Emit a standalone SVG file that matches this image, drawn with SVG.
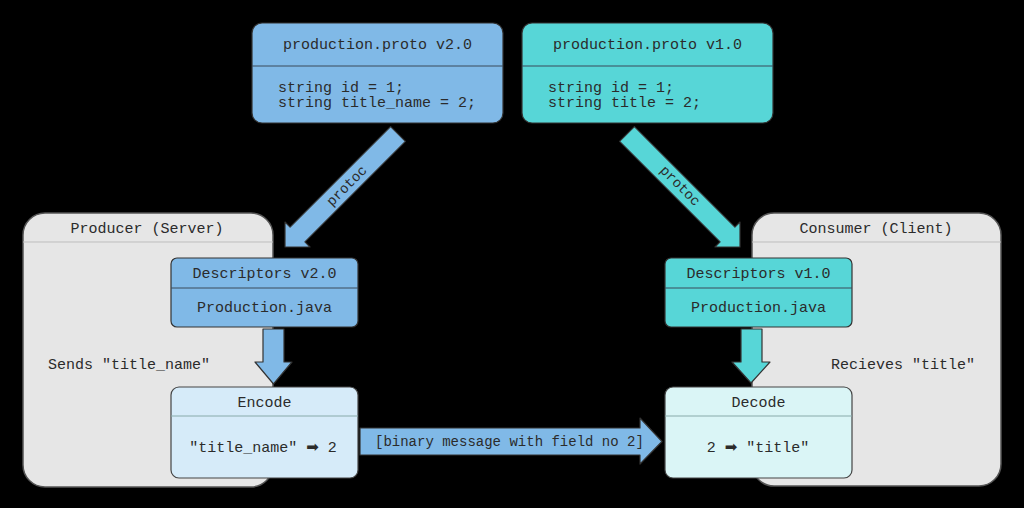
<svg xmlns="http://www.w3.org/2000/svg" width="1024" height="508" viewBox="0 0 1024 508">
<style>
text{font-family:"Liberation Mono","DejaVu Sans Mono",monospace;font-size:15px;fill:#2b2b2b}
.c{text-anchor:middle}
.sym{font-family:"DejaVu Sans",sans-serif}
.cont{fill:#e6e6e6;stroke:#555;stroke-width:1.5}
.cdiv{stroke:#bdbdbd;stroke-width:1}
.blue{fill:#80b9e7;stroke:#333;stroke-width:1.2}
.cyan{fill:#57d6d7;stroke:#333;stroke-width:1.2}
.lblue{fill:#d6ebf9;stroke:#444;stroke-width:1.2}
.lcyan{fill:#daf5f6;stroke:#444;stroke-width:1.2}
.div{stroke:#3a4a5a;stroke-width:1}
.ldiv{stroke:#8aa;stroke-width:1}
.arr{stroke:#333;stroke-width:1.2;stroke-linejoin:round}
</style>
<rect width="1024" height="508" fill="#000"/>
<g id="producer">
<rect class="cont" x="23" y="213" width="250" height="274" rx="22"/>
<line class="cdiv" x1="23" y1="242" x2="273" y2="242"/>
<text class="c" x="147" y="233">Producer (Server)</text>
<text x="48" y="369">Sends "title_name"</text>
</g>
<g id="consumer">
<rect class="cont" x="752" y="213" width="249" height="273" rx="22"/>
<line class="cdiv" x1="752" y1="242" x2="1001" y2="242"/>
<text class="c" x="876" y="233">Consumer (Client)</text>
<text x="831" y="369">Recieves "title"</text>
</g>
<g id="proto-v2">
<rect class="blue" x="252" y="23" width="251" height="100" rx="10"/>
<line class="div" x1="252" y1="66" x2="503" y2="66"/>
<text class="c" x="377.5" y="49">production.proto v2.0</text>
<text x="278" y="92">string id = 1;</text>
<text x="278" y="107">string title_name = 2;</text>
</g>
<g id="proto-v1">
<rect class="cyan" x="522" y="23" width="251" height="100" rx="10"/>
<line class="div" x1="522" y1="66" x2="773" y2="66"/>
<text class="c" x="647.5" y="49">production.proto v1.0</text>
<text x="548" y="92">string id = 1;</text>
<text x="548" y="107">string title = 2;</text>
</g>
<g id="descriptors-v2">
<rect class="blue" x="171" y="258" width="187" height="69" rx="6"/>
<line class="div" x1="171" y1="288" x2="358" y2="288"/>
<text class="c" x="264.5" y="278">Descriptors v2.0</text>
<text class="c" x="264.5" y="312">Production.java</text>
</g>
<g id="descriptors-v1">
<rect class="cyan" x="665" y="258" width="187" height="69" rx="6"/>
<line class="div" x1="665" y1="288" x2="852" y2="288"/>
<text class="c" x="758.5" y="278">Descriptors v1.0</text>
<text class="c" x="758.5" y="312">Production.java</text>
</g>
<g id="encode">
<rect class="lblue" x="171" y="387" width="187" height="91" rx="8"/>
<line class="ldiv" x1="171" y1="416" x2="358" y2="416"/>
<text class="c" x="264.5" y="407">Encode</text>
<text class="c" x="263" y="452">"title_name" <tspan class="sym">➡</tspan> 2</text>
</g>
<g id="decode">
<rect class="lcyan" x="665" y="387" width="187" height="91" rx="8"/>
<line class="ldiv" x1="665" y1="416" x2="852" y2="416"/>
<text class="c" x="758.5" y="407">Decode</text>
<text class="c" x="758" y="452">2 <tspan class="sym">➡</tspan> "title"</text>
</g>
<g id="connectors">
<polygon class="arr" fill="#80b9e7" points="285,247 285,222 290.1,227.1 390.6,126.6 405.4,141.4 304.9,241.9 310,247"/>
<text transform="translate(347,186) rotate(-45)" class="c" style="font-size:14px" y="4">protoc</text>
<polygon class="arr" fill="#57d6d7" points="740,247 740,222 734.9,227.1 634.4,126.6 619.6,141.4 720.1,241.9 715,247"/>
<text transform="translate(680,186) rotate(45)" class="c" style="font-size:14px" y="4">protoc</text>
<polygon class="arr" fill="#80b9e7" points="263,329 284,329 284,362 292,362 273.5,384 255,362 263,362"/>
<polygon class="arr" fill="#57d6d7" points="741,329 762,329 762,362 770,362 751,383 732,362 741,362"/>
<polygon class="arr" fill="#80b9e7" points="360,428 640,428 640,418 662,441.5 640,464 640,455 360,455"/>
<text x="375" y="446" style="font-size:14px">[binary message with field no 2]</text>
</g>
</svg>
